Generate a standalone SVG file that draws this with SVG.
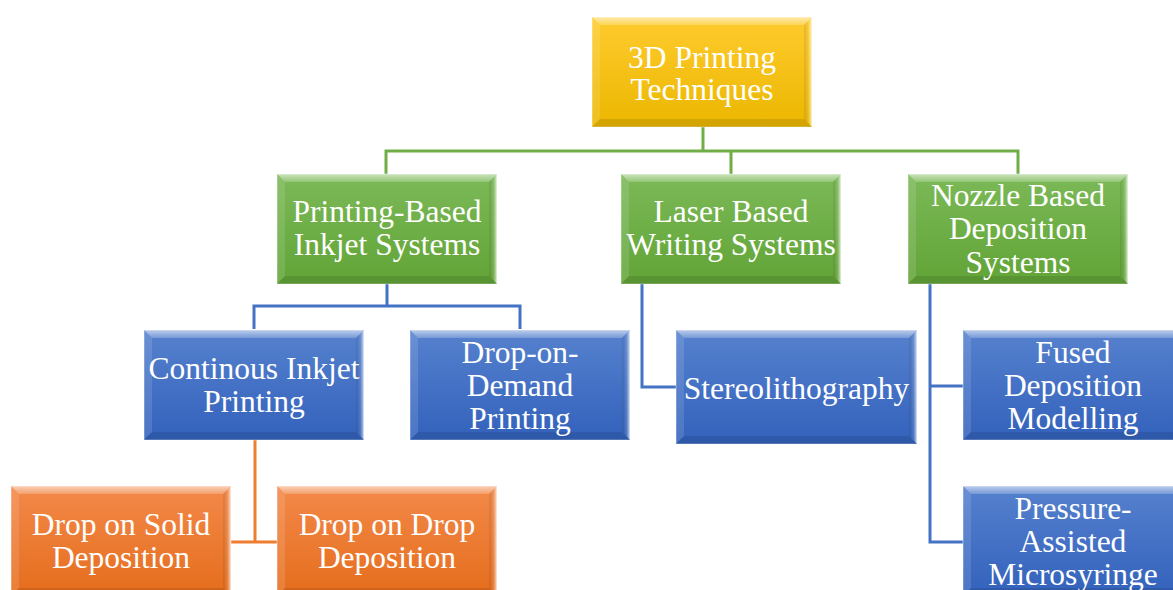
<svg xmlns="http://www.w3.org/2000/svg" xmlns:xlink="http://www.w3.org/1999/xlink" width="1173" height="590" viewBox="0 0 1173 590">
  <style>
    .lbl { font-family: "Liberation Serif", "Times New Roman", serif; font-size: 31.5px; fill: #ffffff; text-anchor: middle; }
    .box { stroke: #ffffff; stroke-opacity: 0.45; stroke-width: 1; }
    .gold { fill: url(#gGold); }
    .green { fill: url(#gGreen); }
    .blue { fill: url(#gBlue); }
    .orange { fill: url(#gOrange); }
    .conn { fill: none; stroke-width: 3; stroke-linejoin: miter; }
    .c-green { stroke: #70AD47; }
    .c-blue { stroke: #4472C4; }
    .c-orange { stroke: #ED7D31; }
  </style>
  <defs>
    <linearGradient id="gGold" x1="0" y1="0" x2="0" y2="1">
      <stop offset="0" stop-color="#FFCB2E"/>
      <stop offset="1" stop-color="#EBB700"/>
    </linearGradient>
    <linearGradient id="gGreen" x1="0" y1="0" x2="0" y2="1">
      <stop offset="0" stop-color="#7BB957"/>
      <stop offset="1" stop-color="#62A437"/>
    </linearGradient>
    <linearGradient id="gBlue" x1="0" y1="0" x2="0" y2="1">
      <stop offset="0" stop-color="#5681CE"/>
      <stop offset="1" stop-color="#3362BC"/>
    </linearGradient>
    <linearGradient id="gOrange" x1="0" y1="0" x2="0" y2="1">
      <stop offset="0" stop-color="#F3894A"/>
      <stop offset="1" stop-color="#E56D1C"/>
    </linearGradient>
    <linearGradient id="bvTop" x1="0" y1="0" x2="0" y2="1">
      <stop offset="0" stop-color="#ffffff" stop-opacity="0.6"/>
      <stop offset="1" stop-color="#ffffff" stop-opacity="0.2"/>
    </linearGradient>
    <linearGradient id="bvRight" x1="0" y1="0" x2="1" y2="0">
      <stop offset="0" stop-color="#000000" stop-opacity="0.08"/>
      <stop offset="0.6" stop-color="#ffffff" stop-opacity="0.15"/>
      <stop offset="1" stop-color="#ffffff" stop-opacity="0.75"/>
    </linearGradient>
    <!-- bevel overlay for a 220 x 110 box -->
    <g id="bevel">
      <polygon points="0,0 220,0 212,8 8,8" fill="url(#bvTop)"/>
      <polygon points="0,0 8,8 8,102 0,110" fill="#ffffff" fill-opacity="0.12"/>
      <polygon points="220,0 220,110 212,102 212,8" fill="url(#bvRight)"/>
      <polygon points="0,110 8,102 212,102 220,110" fill="#000000" fill-opacity="0.1"/>
    </g>
  </defs>

  <rect width="1173" height="590" fill="#ffffff"/>

  <!-- connectors -->
  <g id="connectors">
    <path class="conn c-green" d="M703,127 V151 M386,174 V151 H1018 V174 M731,151 V174"/>
    <path class="conn c-blue" d="M387,284 V306 M254,329 V306 H520 V329"/>
    <path class="conn c-blue" d="M642,284 V387 H676"/>
    <path class="conn c-blue" d="M930,284 V542 H963 M930,386 H963"/>
    <path class="conn c-orange" d="M255,440 V542 M231,542 H277"/>
  </g>

  <!-- root -->
  <g id="root" transform="translate(592,17)">
    <rect class="box gold" width="220" height="110"/>
    <use href="#bevel" xlink:href="#bevel"/>
    <text class="lbl" x="110" y="51">3D Printing</text>
    <text class="lbl" x="110" y="83">Techniques</text>
  </g>

  <!-- second level -->
  <g id="printing-based" transform="translate(277,174)">
    <rect class="box green" width="220" height="110"/>
    <use href="#bevel" xlink:href="#bevel"/>
    <text class="lbl" x="110" y="48">Printing-Based</text>
    <text class="lbl" x="110" y="81">Inkjet Systems</text>
  </g>
  <g id="laser-based" transform="translate(621,174)">
    <rect class="box green" width="220" height="110"/>
    <use href="#bevel" xlink:href="#bevel"/>
    <text class="lbl" x="110" y="48">Laser Based</text>
    <text class="lbl" x="110" y="81">Writing Systems</text>
  </g>
  <g id="nozzle-based" transform="translate(908,174)">
    <rect class="box green" width="220" height="110"/>
    <use href="#bevel" xlink:href="#bevel"/>
    <text class="lbl" x="110" y="32">Nozzle Based</text>
    <text class="lbl" x="110" y="65">Deposition</text>
    <text class="lbl" x="110" y="99">Systems</text>
  </g>

  <!-- third level -->
  <g id="continuous-inkjet" transform="translate(144,330)">
    <rect class="box blue" width="220" height="110"/>
    <use href="#bevel" xlink:href="#bevel"/>
    <text class="lbl" x="110" y="49">Continous Inkjet</text>
    <text class="lbl" x="110" y="82">Printing</text>
  </g>
  <g id="drop-on-demand" transform="translate(410,330)">
    <rect class="box blue" width="220" height="110"/>
    <use href="#bevel" xlink:href="#bevel"/>
    <text class="lbl" x="110" y="33">Drop-on-</text>
    <text class="lbl" x="110" y="66">Demand</text>
    <text class="lbl" x="110" y="99">Printing</text>
  </g>
  <g id="stereolithography" transform="translate(676,330)">
    <rect class="box blue" width="241" height="114"/>
    <polygon points="0,0 241,0 233,8 8,8" fill="url(#bvTop)"/>
    <polygon points="0,0 8,8 8,106 0,114" fill="#ffffff" fill-opacity="0.12"/>
    <polygon points="241,0 241,114 233,106 233,8" fill="url(#bvRight)"/>
    <polygon points="0,114 8,106 233,106 241,114" fill="#000000" fill-opacity="0.1"/>
    <text class="lbl" x="120.5" y="69">Stereolithography</text>
  </g>
  <g id="fused-deposition" transform="translate(963,330)">
    <rect class="box blue" width="220" height="110"/>
    <use href="#bevel" xlink:href="#bevel"/>
    <text class="lbl" x="110" y="33">Fused</text>
    <text class="lbl" x="110" y="66">Deposition</text>
    <text class="lbl" x="110" y="99">Modelling</text>
  </g>
  <g id="pressure-assisted" transform="translate(963,486)">
    <rect class="box blue" width="220" height="110"/>
    <use href="#bevel" xlink:href="#bevel"/>
    <text class="lbl" x="110" y="33">Pressure-</text>
    <text class="lbl" x="110" y="66">Assisted</text>
    <text class="lbl" x="110" y="99">Microsyringe</text>
  </g>

  <!-- fourth level -->
  <g id="drop-on-solid" transform="translate(11,486)">
    <rect class="box orange" width="220" height="110"/>
    <use href="#bevel" xlink:href="#bevel"/>
    <text class="lbl" x="110" y="49">Drop on Solid</text>
    <text class="lbl" x="110" y="82">Deposition</text>
  </g>
  <g id="drop-on-drop" transform="translate(277,486)">
    <rect class="box orange" width="220" height="110"/>
    <use href="#bevel" xlink:href="#bevel"/>
    <text class="lbl" x="110" y="49">Drop on Drop</text>
    <text class="lbl" x="110" y="82">Deposition</text>
  </g>
</svg>
